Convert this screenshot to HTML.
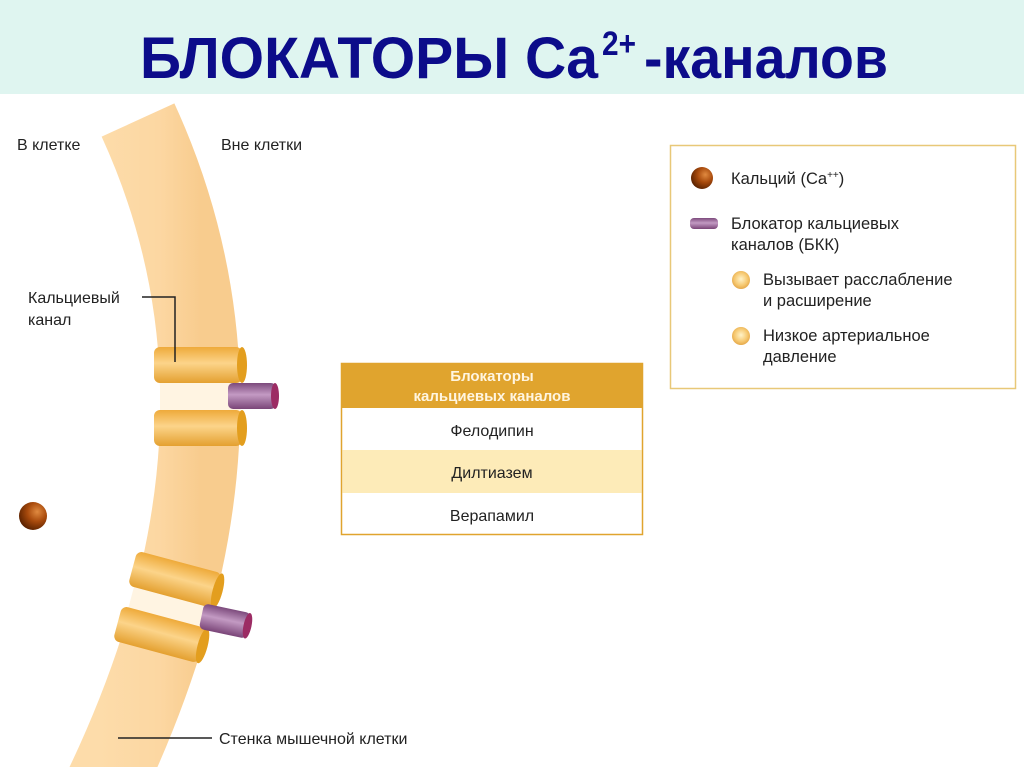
<!DOCTYPE html>
<html><head><meta charset="utf-8"><style>
html,body{margin:0;padding:0;background:#fff;}
svg{display:block;font-family:"Liberation Sans",sans-serif;}
</style></head><body>
<svg width="1024" height="767" viewBox="0 0 1024 767" xmlns="http://www.w3.org/2000/svg">
<defs>
<linearGradient id="og" x1="0" y1="0" x2="0" y2="1">
<stop offset="0" stop-color="#eeaa3a"/><stop offset="0.45" stop-color="#fcd48a"/><stop offset="1" stop-color="#e4a030"/></linearGradient>
<linearGradient id="pg" x1="0" y1="0" x2="0" y2="1">
<stop offset="0" stop-color="#7c4a7c"/><stop offset="0.45" stop-color="#c39ac3"/><stop offset="1" stop-color="#7a4578"/></linearGradient>
<linearGradient id="mg" x1="0" y1="0" x2="1" y2="0">
<stop offset="0" stop-color="#fddcaa"/><stop offset="0.6" stop-color="#fcd7a2"/><stop offset="1" stop-color="#f8cc8e"/></linearGradient>
<radialGradient id="bg1" cx="0.65" cy="0.35" r="0.7">
<stop offset="0" stop-color="#e08a40"/><stop offset="0.5" stop-color="#a84a0c"/><stop offset="1" stop-color="#5a2200"/></radialGradient>
<radialGradient id="yg" cx="0.5" cy="0.45" r="0.6">
<stop offset="0" stop-color="#fff3c8"/><stop offset="0.6" stop-color="#f6c870"/><stop offset="1" stop-color="#e0a040"/></radialGradient>
</defs>
<rect x="0" y="0" width="1024" height="94" fill="#dff5f0"/>
<g font-weight="bold" fill="#0c0c8a">
<text x="140" y="78" font-size="58" textLength="458" lengthAdjust="spacingAndGlyphs">БЛОКАТОРЫ Ca</text>
<text x="602" y="55" font-size="34" textLength="34" lengthAdjust="spacingAndGlyphs">2+</text>
<text x="644" y="78" font-size="58" textLength="244" lengthAdjust="spacingAndGlyphs">-каналов</text>
</g>
<!-- membrane -->
<path d="M138,120 Q280,430 98,800" stroke="url(#mg)" stroke-width="80" fill="none"/>
<rect x="160" y="380" width="80" height="34" fill="#fff4e2"/>
<g transform="translate(170,607) rotate(15)"><rect x="-40" y="-12" width="80" height="24" fill="#fff4e2"/></g>
<g transform="translate(200,365)">
<rect x="-46" y="-18" width="88" height="36" rx="6" fill="url(#og)"/><ellipse cx="42" cy="0" rx="5" ry="18" fill="#e39e1e"/></g>
<g transform="translate(200,428)">
<rect x="-46" y="-18" width="88" height="36" rx="6" fill="url(#og)"/><ellipse cx="42" cy="0" rx="5" ry="18" fill="#e39e1e"/></g>
<g transform="translate(252,396)">
<rect x="-24" y="-13" width="48" height="26" rx="5" fill="url(#pg)"/><ellipse cx="23" cy="0" rx="4" ry="13" fill="#9c2c64"/></g>
<g transform="translate(177,580) rotate(15)">
<rect x="-46" y="-18" width="88" height="36" rx="6" fill="url(#og)"/><ellipse cx="42" cy="0" rx="5" ry="18" fill="#e39e1e"/></g>
<g transform="translate(162,635) rotate(15)">
<rect x="-46" y="-18" width="88" height="36" rx="6" fill="url(#og)"/><ellipse cx="42" cy="0" rx="5" ry="18" fill="#e39e1e"/></g>
<g transform="translate(225,621) rotate(12)">
<rect x="-24" y="-13" width="48" height="26" rx="5" fill="url(#pg)"/><ellipse cx="23" cy="0" rx="4" ry="13" fill="#9c2c64"/></g>
<circle cx="33" cy="516" r="14" fill="url(#bg1)"/>
<g font-size="16" fill="#222">
<text x="17" y="150">В клетке</text>
<text x="221" y="150">Вне клетки</text>
<text x="28" y="303">Кальциевый</text>
<text x="28" y="325">канал</text>
<text x="219" y="744">Стенка мышечной клетки</text>
</g>
<path d="M142,297 H175 V362" stroke="#222" stroke-width="1.5" fill="none"/>
<line x1="118" y1="738" x2="212" y2="738" stroke="#222" stroke-width="1.5"/>
<rect x="341.5" y="363.5" width="301" height="171" fill="#fff" stroke="#e0a42e" stroke-width="1.5"/>
<rect x="341" y="363" width="302" height="45" fill="#e0a42e"/>
<rect x="342.5" y="450" width="299" height="43" fill="#fdebb8"/>
<g font-size="15" font-weight="bold" fill="#fff5e0" text-anchor="middle">
<text x="492" y="381">Блокаторы</text><text x="492" y="401">кальциевых каналов</text></g>
<g font-size="16" fill="#222" text-anchor="middle">
<text x="492" y="436">Фелодипин</text><text x="492" y="478">Дилтиазем</text><text x="492" y="521">Верапамил</text></g>
<rect x="670.5" y="145.5" width="345" height="243" fill="#fff" stroke="#e8c878" stroke-width="1.5"/>
<circle cx="702" cy="178" r="11" fill="url(#bg1)"/>
<rect x="690" y="218" width="28" height="11" rx="4" fill="url(#pg)"/>
<circle cx="741" cy="280" r="9" fill="url(#yg)"/>
<circle cx="741" cy="336" r="9" fill="url(#yg)"/>
<g font-size="16.5" fill="#222">
<text x="731" y="184">Кальций (Ca<tspan font-size="10" dy="-6">++</tspan><tspan dy="6">)</tspan></text>
<text x="731" y="229">Блокатор кальциевых</text>
<text x="731" y="250">каналов (БКК)</text>
<text x="763" y="285">Вызывает расслабление</text>
<text x="763" y="306">и расширение</text>
<text x="763" y="341">Низкое артериальное</text>
<text x="763" y="362">давление</text>
</g>
</svg>
</body></html>
